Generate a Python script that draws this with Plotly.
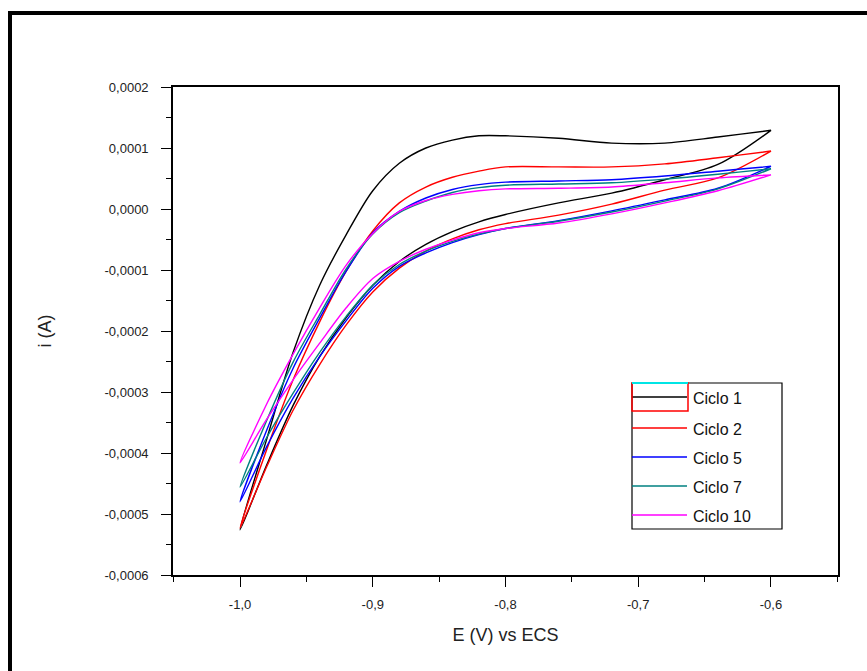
import plotly.graph_objects as go

# Potential grids (V vs ECS)
E_fwd = [-1.00, -0.98, -0.96, -0.94, -0.92, -0.90, -0.88, -0.86, -0.84, -0.82,
         -0.80, -0.76, -0.72, -0.68, -0.64, -0.60]
E_rev = [-0.60, -0.64, -0.68, -0.72, -0.76, -0.80, -0.82, -0.84, -0.86, -0.88,
         -0.90, -0.92, -0.94, -0.96, -0.98, -1.00]

# Current (A), forward sweep (-1.0 -> -0.6)
i1_fwd = [-5.26e-4, -3.78e-4, -2.35e-4, -1.25e-4, -0.42e-4, 0.30e-4, 0.75e-4, 1.00e-4,
          1.13e-4, 1.20e-4, 1.20e-4, 1.16e-4, 1.08e-4, 1.08e-4, 1.18e-4, 1.29e-4]
i2_fwd = [-5.23e-4, -3.95e-4, -2.80e-4, -1.85e-4, -1.02e-4, -0.36e-4, 0.10e-4, 0.36e-4,
          0.52e-4, 0.62e-4, 0.69e-4, 0.69e-4, 0.69e-4, 0.74e-4, 0.84e-4, 0.95e-4]
i5_fwd = [-4.80e-4, -3.63e-4, -2.61e-4, -1.79e-4, -1.02e-4, -0.39e-4, -0.04e-4, 0.18e-4,
          0.32e-4, 0.40e-4, 0.44e-4, 0.46e-4, 0.48e-4, 0.54e-4, 0.62e-4, 0.70e-4]
i7_fwd = [-4.56e-4, -3.47e-4, -2.51e-4, -1.73e-4, -0.98e-4, -0.41e-4, -0.06e-4, 0.13e-4,
          0.27e-4, 0.35e-4, 0.39e-4, 0.41e-4, 0.43e-4, 0.49e-4, 0.57e-4, 0.66e-4]
i10_fwd = [-4.16e-4, -3.20e-4, -2.38e-4, -1.62e-4, -0.92e-4, -0.40e-4, -0.04e-4, 0.14e-4,
           0.24e-4, 0.30e-4, 0.33e-4, 0.34e-4, 0.36e-4, 0.43e-4, 0.51e-4, 0.56e-4]

# Current (A), reverse sweep (-0.6 -> -1.0)
i1_rev = [1.29e-4, 0.73e-4, 0.48e-4, 0.26e-4, 0.10e-4, -0.09e-4, -0.21e-4, -0.37e-4,
          -0.58e-4, -0.86e-4, -1.25e-4, -1.78e-4, -2.42e-4, -3.22e-4, -4.20e-4, -5.26e-4]
i2_rev = [0.95e-4, 0.51e-4, 0.31e-4, 0.08e-4, -0.10e-4, -0.24e-4, -0.34e-4, -0.49e-4,
          -0.69e-4, -0.97e-4, -1.36e-4, -1.90e-4, -2.55e-4, -3.30e-4, -4.23e-4, -5.23e-4]
i5_rev = [0.70e-4, 0.34e-4, 0.15e-4, -0.03e-4, -0.19e-4, -0.32e-4, -0.42e-4, -0.55e-4,
          -0.72e-4, -0.94e-4, -1.30e-4, -1.83e-4, -2.42e-4, -3.10e-4, -3.90e-4, -4.80e-4]
i7_rev = [0.66e-4, 0.33e-4, 0.13e-4, -0.05e-4, -0.20e-4, -0.32e-4, -0.41e-4, -0.53e-4,
          -0.69e-4, -0.91e-4, -1.25e-4, -1.76e-4, -2.35e-4, -3.02e-4, -3.75e-4, -4.56e-4]
i10_rev = [0.56e-4, 0.30e-4, 0.10e-4, -0.08e-4, -0.23e-4, -0.32e-4, -0.39e-4, -0.51e-4,
           -0.66e-4, -0.86e-4, -1.14e-4, -1.62e-4, -2.20e-4, -2.80e-4, -3.45e-4, -4.16e-4]

names = ["Ciclo 1", "Ciclo 2", "Ciclo 5", "Ciclo 7", "Ciclo 10"]
fwd = [i1_fwd, i2_fwd, i5_fwd, i7_fwd, i10_fwd]
rev = [i1_rev, i2_rev, i5_rev, i7_rev, i10_rev]
colors = ["#000000", "#ff0000", "#0000ff", "#008080", "#ff00ff"]

x_tickvals = [-1.0, -0.9, -0.8, -0.7, -0.6]
x_ticktext = ["-1,0", "-0,9", "-0,8", "-0,7", "-0,6"]
x_minor = [-1.05, -0.95, -0.85, -0.75, -0.65, -0.55]
y_tickvals = [0.0002, 0.0001, 0.0, -0.0001, -0.0002, -0.0003, -0.0004, -0.0005, -0.0006]
y_ticktext = ["0,0002", "0,0001", "0,0000", "-0,0001", "-0,0002", "-0,0003",
              "-0,0004", "-0,0005", "-0,0006"]
y_minor = [0.00015, 0.00005, -0.00005, -0.00015, -0.00025, -0.00035, -0.00045, -0.00055]

fig = go.Figure()
for n, f, r, c in zip(names, fwd, rev, colors):
    fig.add_trace(go.Scatter(
        x=E_fwd + E_rev, y=f + r, mode="lines", name=n,
        line=dict(color=c, width=1.4, shape="spline", smoothing=0.9),
        showlegend=False))

# pixel layout helpers
W, H = 867, 671
L, R, T, B = 173, 29, 87, 96
PW, PH = W - L - R, H - T - B


def px(x):
    return (x - L) / PW


def py(y):
    return (H - B - y) / PH


FONT = "Arial, Liberation Sans"
shapes = []
annotations = []
# outer thick frame (partially cut off at right and bottom)
shapes.append(dict(type="rect", xref="paper", yref="paper",
                   x0=px(10), x1=px(900), y0=py(700), y1=py(13),
                   line=dict(color="black", width=4), fillcolor="rgba(0,0,0,0)"))

# custom legend
lx0, lx1, ly0, ly1 = 632, 782, 383, 529
shapes.append(dict(type="rect", xref="paper", yref="paper",
                   x0=px(lx0), x1=px(lx1), y0=py(ly1), y1=py(ly0),
                   line=dict(color="black", width=1.2), fillcolor="white", layer="above"))
rows = [397, 428, 457, 486, 515]
for n, c, ry in zip(names, colors, rows):
    shapes.append(dict(type="line", xref="paper", yref="paper",
                       x0=px(lx0), x1=px(687), y0=py(ry), y1=py(ry),
                       line=dict(color=c, width=1.6), layer="above"))
    annotations.append(dict(text=n, xref="paper", yref="paper", x=px(691), y=py(ry + 1),
                            xanchor="left", yanchor="middle", showarrow=False,
                            font=dict(family=FONT, size=16, color="#111")))
# legend artifacts (cyan line and red box around first entry)
shapes.append(dict(type="rect", xref="paper", yref="paper",
                   x0=px(lx0), x1=px(688), y0=py(411), y1=py(ly0),
                   line=dict(color="#ff0000", width=1.5), fillcolor="rgba(0,0,0,0)", layer="above"))
shapes.append(dict(type="line", xref="paper", yref="paper",
                   x0=px(lx0), x1=px(688), y0=py(ly0), y1=py(ly0),
                   line=dict(color="#00e5e5", width=2), layer="above"))

axis_common = dict(showline=True, linecolor="black", linewidth=1.6, mirror=True,
                   ticks="outside", ticklen=10, tickwidth=1.4, tickcolor="black",
                   showgrid=False, zeroline=False,
                   tickfont=dict(family=FONT, size=13, color="#222"))

fig.update_layout(
    width=W, height=H,
    margin=dict(l=L, r=R, t=T, b=B),
    paper_bgcolor="white", plot_bgcolor="white",
    shapes=shapes, annotations=annotations,
    xaxis=dict(range=[-1.0505, -0.5495], tickmode="array", tickvals=x_tickvals,
               ticktext=x_ticktext,
               minor=dict(tickmode="array", tickvals=x_minor, ticks="outside",
                          ticklen=5, tickwidth=1.4, tickcolor="black"),
               ticklabelstandoff=7,
               title=dict(text="E (V) vs ECS", standoff=17,
                          font=dict(family=FONT, size=18, color="#222")),
               **axis_common),
    yaxis=dict(range=[-0.0006, 0.0002], tickmode="array", tickvals=y_tickvals,
               ticktext=y_ticktext,
               minor=dict(tickmode="array", tickvals=y_minor, ticks="outside",
                          ticklen=5, tickwidth=1.4, tickcolor="black"),
               ticklabelstandoff=10,
               title=dict(text="i (A)", standoff=48,
                          font=dict(family=FONT, size=18, color="#222")),
               **axis_common),
)

fig.write_html("out.html")
